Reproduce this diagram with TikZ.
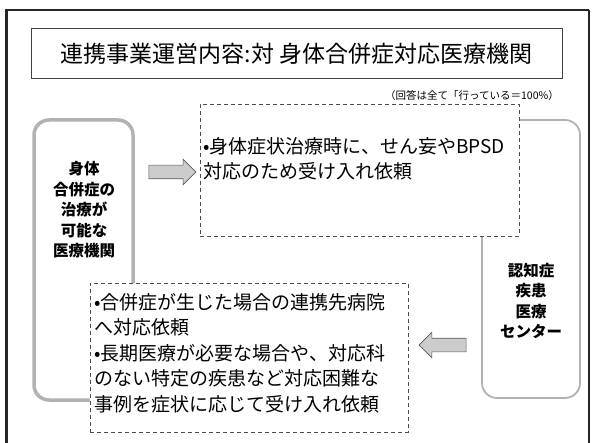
\documentclass[tikz,border=0pt]{standalone}
\usepackage{fontspec}
\setmainfont{Noto Sans CJK JP}
\usetikzlibrary{shapes.arrows}
\begin{document}
\begin{tikzpicture}[x=1pt,y=-1pt,
  frame/.style={draw=black!85},
  graybox/.style={draw=gray!60, rounded corners=15pt, inner sep=0pt},
  dashbox/.style={draw=black!70, fill=white, line width=0.8pt, dash pattern=on 4pt off 3pt, inner sep=0pt},
  bodytxt/.style={font=\fontsize{19}{25.5}\selectfont, align=left, inner sep=0pt, anchor=west},
  sidetxt/.style={font=\bfseries\fontsize{15.5}{20.5}\selectfont, align=center, inner sep=0pt},
  blockarrow/.style={single arrow, draw=gray!70!black, fill=gray!40, line width=0.6pt,
     minimum height=47pt, inner sep=6.5pt, single arrow head extend=6pt}
]
\useasboundingbox (0,0) rectangle (593,443);
% outer frame
\draw[frame, line width=3pt] (6,443) -- (6,10);
\draw[frame, line width=2pt] (5,10) -- (589,10);
\draw[frame, line width=1.5pt] (589,10) -- (589,443);
% title
\node[draw=black!75, line width=1pt, minimum width=531pt, minimum height=50pt, inner sep=0pt,
      font=\fontsize{23}{28}\selectfont] (title) at (296.5,54) {連携事業運営内容:対 身体合併症対応医療機関};
\node[anchor=east, inner sep=0pt, font=\fontsize{10.5}{13}\selectfont] (note) at (559,96) {（回答は全て「行っている＝100\%）};
% side boxes
\node[graybox, line width=3.5pt, minimum width=99pt, minimum height=280pt] (left) at (83.5,260) {};
\node[graybox, line width=1.8pt, minimum width=98pt, minimum height=278pt] (right) at (531,259) {};
\node[sidetxt] (lefttxt) at (84,210) {身体\\合併症の\\治療が\\可能な\\医療機関};
\node[sidetxt] (righttxt) at (531,301) {認知症\\疾患\\医療\\センター};
% dashed boxes
\node[dashbox, minimum width=319pt, minimum height=132pt] (req1) at (359.5,170) {};
\node[bodytxt] (req1txt) at (203,159) {•身体症状治療時に、せん妄やBPSD\\対応のため受け入れ依頼};
\node[dashbox, minimum width=318pt, minimum height=149pt] (req2) at (249,357.5) {};
\node[bodytxt] (req2txt) at (94,353) {•合併症が生じた場合の連携先病院\\へ対応依頼\\•長期医療が必要な場合や、対応科\\のない特定の疾患など対応困難な\\事例を症状に応じて受け入れ依頼};
% block arrows
\node[blockarrow] (a1) at (169,172) {};
\node[blockarrow, shape border rotate=180] (a2) at (446,345) {};
\end{tikzpicture}
\end{document}
